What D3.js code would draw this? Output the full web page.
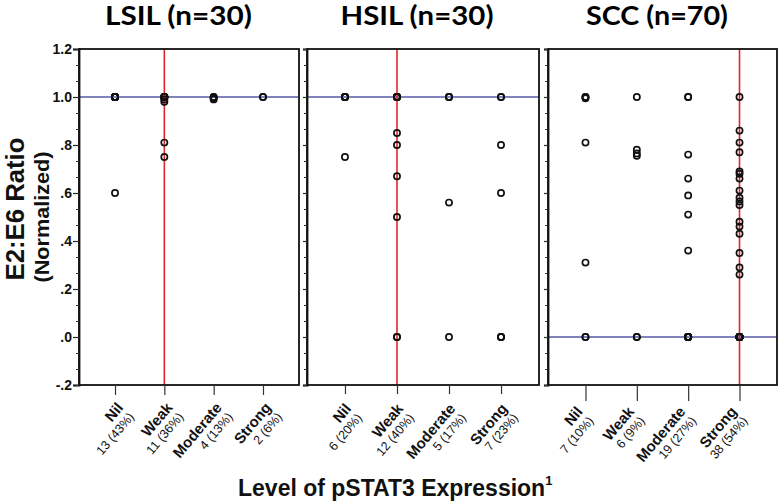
<!DOCTYPE html>
<html><head><meta charset="utf-8">
<script src="https://cdn.jsdelivr.net/npm/d3@7"></script>
<style>body{margin:0;background:#fff}svg{display:block}</style>
</head><body>
<svg id="chart" width="780" height="504"></svg>
<script>
// ---------- DATA ----------
const categories = ["Nil", "Weak", "Moderate", "Strong"];
const groupTitles = ["LSIL (n=30)", "HSIL (n=30)", "SCC (n=70)"];
const countLabels = [
  ["13 (43%)", "11 (36%)", "4 (13%)", "2 (6%)"],
  ["6 (20%)", "12 (40%)", "5 (17%)", "7 (23%)"],
  ["7 (10%)", "6 (9%)", "19 (27%)", "38 (54%)"]
];
const lsilNil = [1,1,1,1,1,1,1,1,1,1,1,1,0.6];
const lsilWeak = [1,1,1,1,1,1,1,0.99,0.98,0.81,0.75];
const lsilModerate = [1,1,0.995,0.99];
const lsilStrong = [1,1];
const hsilNil = [1,1,1,1,1,0.75];
const hsilWeak = [1,1,1,1,1,1,0.85,0.80,0.67,0.50,0,0];
const hsilModerate = [1,1,1,0.56,0];
const hsilStrong = [1,1,0.80,0.60,0,0,0];
const sccNil = [1,1,0.995,0.81,0.31,0,0];
const sccWeak = [1,0.78,0.765,0.755,0,0];
const sccModerate = [1,1,0.76,0.66,0.59,0.51,0.36,0,0,0,0,0,0,0,0,0,0,0,0];
const sccStrong = [1,0.86,0.81,0.77,0.69,0.68,0.66,0.61,0.58,0.565,0.55,0.48,0.46,0.43,0.35,0.29,0.26,
  0,0,0,0,0,0,0,0,0,0,0,0,0,0,0,0,0,0,0,0,0];
const groupValues = [
  [lsilNil, lsilWeak, lsilModerate, lsilStrong],
  [hsilNil, hsilWeak, hsilModerate, hsilStrong],
  [sccNil, sccWeak, sccModerate, sccStrong]
];
const refLineY = [1, 1, 0];                 // blue horizontal reference value
const refLineCat = ["Weak", "Weak", "Strong"]; // red vertical reference category
const yTickValues = [-0.2, 0, 0.2, 0.4, 0.6, 0.8, 1.0, 1.2];
const yTickLabels = ["-.2", ".0", ".2", ".4", ".6", ".8", "1.0", "1.2"];
const yTitle = "E2:E6 Ratio";
const ySubTitle = "(Normalized)";
const xTitle = "Level of pSTAT3 Expression";

// ---------- LAYOUT ----------
const svg = d3.select("#chart");
const yTop = 49, yBottom = 385;
const panelX = [[79, 299], [307, 539], [548, 777]];
const titleX = [178.5, 417, 657];
const titleW = [147, 153, 142];
const tickLen = [10, 9, 16];
const labelDX = [9, 7, -2];
const labelY = [408, 409, 412];
const y = d3.scaleLinear().domain([-0.2, 1.2]).range([yBottom, yTop]);
const minorTicks = d3.range(22).map(i => -0.2 + i * 0.2 / 3);

const RED = "#e3262b", BLUE = "#5a5aa6";
const SANS = "Liberation Sans, Arial, sans-serif";

panelX.forEach((px, p) => {
  const x = d3.scalePoint().domain(categories).range(px).padding(0.73);
  const g = svg.append("g");

  // reference lines
  g.append("line").attr("x1", px[0]).attr("x2", px[1])
    .attr("y1", y(refLineY[p])).attr("y2", y(refLineY[p]))
    .attr("stroke", BLUE).attr("stroke-width", 1.4);
  g.append("line").attr("x1", x(refLineCat[p])).attr("x2", x(refLineCat[p]))
    .attr("y1", yTop).attr("y2", yBottom)
    .attr("stroke", RED).attr("stroke-width", 1.6);

  // frame
  g.append("rect").attr("x", px[0]).attr("y", yTop)
    .attr("width", px[1] - px[0]).attr("height", yBottom - yTop)
    .attr("fill", "none").attr("stroke", "#111").attr("stroke-width", 1.8);

  // y axis
  const yAxis = d3.axisLeft(y).tickValues(yTickValues).tickSize(p === 0 ? 6 : 4)
    .tickFormat((d, i) => p === 0 ? yTickLabels[i] : "");
  const ya = g.append("g").attr("transform", `translate(${px[0]},0)`).call(yAxis);
  ya.select(".domain").attr("stroke", "#111").attr("stroke-width", 1.8);
  ya.selectAll(".tick line").attr("stroke", "#222").attr("stroke-width", 1.2);
  ya.selectAll(".tick text").attr("font-family", SANS)
    .attr("font-weight", "bold").attr("font-size", 14).attr("fill", "#111").attr("x", -7);
  const yMinor = d3.axisLeft(y).tickValues(minorTicks).tickSize(3).tickFormat("");
  const ym = g.append("g").attr("transform", `translate(${px[0]},0)`).call(yMinor);
  ym.select(".domain").remove();
  ym.selectAll(".tick line").attr("stroke", "#333").attr("stroke-width", 1);

  // x axis
  const xAxis = d3.axisBottom(x).tickSize(tickLen[p]).tickFormat("");
  const xa = g.append("g").attr("transform", `translate(0,${yBottom})`).call(xAxis);
  xa.select(".domain").remove();
  xa.selectAll(".tick line").attr("stroke", "#333").attr("stroke-width", 1.2);

  // tick labels (two lines, rotated)
  categories.forEach((c, i) => {
    const lg = g.append("g")
      .attr("transform", `translate(${x(c) + labelDX[p]},${labelY[p]}) rotate(-50)`);
    lg.append("text").attr("text-anchor", "end")
      .attr("font-family", SANS).attr("font-weight", "bold")
      .attr("font-size", 15).attr("fill", "#111").text(c);
    lg.append("text").attr("text-anchor", "end").attr("y", 14).attr("x", 0)
      .attr("font-family", SANS)
      .attr("font-size", 12.5).attr("fill", "#111").text(countLabels[p][i]);
  });

  // points
  const pts = [];
  categories.forEach((c, i) => groupValues[p][i].forEach(v => pts.push({c, v})));
  g.selectAll("circle.pt").data(pts).join("circle").attr("class", "pt")
    .attr("cx", d => x(d.c)).attr("cy", d => y(d.v)).attr("r", 3.1)
    .attr("fill", "none").attr("stroke", "#111").attr("stroke-width", 1.7);

  // panel title
  svg.append("text").attr("x", titleX[p]).attr("y", 25).attr("text-anchor", "middle")
    .attr("font-family", "Lato, Open Sans, sans-serif").attr("font-weight", "bold")
    .attr("font-size", 26).attr("fill", "#000")
    .attr("textLength", titleW[p]).attr("lengthAdjust", "spacingAndGlyphs")
    .text(groupTitles[p]);
});

// axis titles
svg.append("text").attr("transform", "translate(24,209) rotate(-90)").attr("text-anchor", "middle")
  .attr("font-family", SANS).attr("font-weight", "bold")
  .attr("font-size", 25).attr("fill", "#111")
  .attr("textLength", 143).attr("lengthAdjust", "spacingAndGlyphs").text(yTitle);
svg.append("text").attr("transform", "translate(49,217) rotate(-90)").attr("text-anchor", "middle")
  .attr("font-family", SANS).attr("font-weight", "bold")
  .attr("font-size", 21).attr("fill", "#111")
  .attr("textLength", 131).attr("lengthAdjust", "spacingAndGlyphs").text(ySubTitle);
const xt = svg.append("text").attr("x", 238).attr("y", 496)
  .attr("font-family", SANS).attr("font-weight", "bold")
  .attr("font-size", 23).attr("fill", "#111");
xt.append("tspan").text(xTitle);
xt.append("tspan").attr("font-size", 13).attr("dy", -11).text("1");
</script>
</body></html>
